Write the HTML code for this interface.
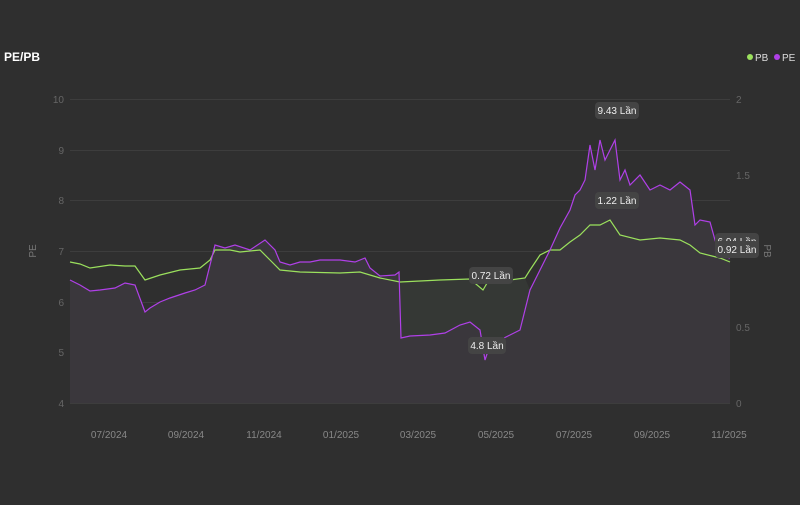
<!DOCTYPE html>
<html><head><meta charset="utf-8"><style>
body{margin:0;background:#2f2f2f;width:800px;height:500px;overflow:hidden;font-family:"Liberation Sans",sans-serif}
</style></head><body>
<svg width="800" height="500" xmlns="http://www.w3.org/2000/svg" font-family="Liberation Sans, sans-serif">
<rect width="800" height="500" fill="#2f2f2f"/>
<text x="4" y="61" fill="#fff" font-size="12" font-weight="bold">PE/PB</text>
<circle cx="750" cy="57" r="3" fill="#9be15d"/><text x="755" y="61" fill="#ddd" font-size="10">PB</text>
<circle cx="777" cy="57" r="3" fill="#b040e8"/><text x="782" y="61" fill="#ddd" font-size="10">PE</text>
<g stroke="#3d3d3d" stroke-width="1">
<line x1="70" y1="99.5" x2="730" y2="99.5"/><line x1="70" y1="150.5" x2="730" y2="150.5"/>
<line x1="70" y1="200.5" x2="730" y2="200.5"/><line x1="70" y1="251.5" x2="730" y2="251.5"/>
<line x1="70" y1="302.5" x2="730" y2="302.5"/><line x1="70" y1="352.5" x2="730" y2="352.5"/>
<line x1="70" y1="403.5" x2="730" y2="403.5"/></g>
<g fill="#666" font-size="10" text-anchor="end">
<text x="64" y="103">10</text><text x="64" y="154">9</text><text x="64" y="204">8</text><text x="64" y="255">7</text><text x="64" y="306">6</text><text x="64" y="356">5</text><text x="64" y="407">4</text></g>
<g fill="#666" font-size="10">
<text x="736" y="103">2</text><text x="736" y="179">1.5</text><text x="736" y="331">0.5</text><text x="736" y="407">0</text></g>
<text transform="translate(36,251) rotate(-90)" fill="#777" font-size="10" text-anchor="middle">PE</text>
<text transform="translate(764,251) rotate(90)" fill="#777" font-size="10" text-anchor="middle">PB</text>
<g fill="#888" font-size="10" text-anchor="middle">
<text x="109" y="438">07/2024</text><text x="186" y="438">09/2024</text><text x="264" y="438">11/2024</text><text x="341" y="438">01/2025</text><text x="418" y="438">03/2025</text><text x="496" y="438">05/2025</text><text x="574" y="438">07/2025</text><text x="652" y="438">09/2025</text><text x="729" y="438">11/2025</text></g>
<polygon fill="#3a373c" points="70,280 80,285 90,291 100,290 115,288 125,283 135,285 145,312 150,308 160,302 170,298 185,293 195,290 205,285 210,265 215,245 225,248 235,245 250,250 265,240 275,250 280,262 290,265 300,262 310,262 320,260 340,260 355,262 365,258 370,268 380,276 395,275 399,272 401,338 410,336 430,335 445,333 460,325 470,322 480,330 485,360 490,345 500,340 510,335 520,330 525,310 530,290 540,270 550,250 560,228 570,210 575,195 580,190 585,180 590,145 595,170 600,140 605,160 610,150 615,140 620,180 625,170 630,185 640,175 650,190 660,185 670,190 680,182 690,190 695,225 700,220 710,222 715,240 720,255 730,258 730,403 70,403"/>
<polygon fill="#353835" points="401,338 410,336 430,335 445,333 460,325 470,322 480,330 485,360 490,345 500,340 510,335 520,330 525,310 530,290 525,278 510,280 490,278 483,290 470,279 440,280 420,281 400,282"/>
<polyline fill="none" stroke="#9be15d" stroke-width="1.2" points="70,262 80,264 90,268 110,265 125,266 135,266 145,280 160,275 180,270 200,268 210,260 215,250 230,250 240,252 260,250 270,260 280,270 300,272 340,273 360,272 380,278 400,282 420,281 440,280 470,279 483,290 490,278 510,280 525,278 530,270 540,255 550,250 560,250 570,242 580,235 590,225 600,225 610,220 620,235 640,240 660,238 680,240 690,245 700,253 720,258 730,262"/>
<polyline fill="none" stroke="#b040e8" stroke-width="1.2" points="70,280 80,285 90,291 100,290 115,288 125,283 135,285 145,312 150,308 160,302 170,298 185,293 195,290 205,285 210,265 215,245 225,248 235,245 250,250 265,240 275,250 280,262 290,265 300,262 310,262 320,260 340,260 355,262 365,258 370,268 380,276 395,275 399,272 401,338 410,336 430,335 445,333 460,325 470,322 480,330 485,360 490,345 500,340 510,335 520,330 525,310 530,290 540,270 550,250 560,228 570,210 575,195 580,190 585,180 590,145 595,170 600,140 605,160 610,150 615,140 620,180 625,170 630,185 640,175 650,190 660,185 670,190 680,182 690,190 695,225 700,220 710,222 715,240 720,255 730,258"/>
<g font-size="10" fill="#eee" text-anchor="middle">
<rect x="595" y="102" width="44" height="17" rx="4" fill="#444"/><text x="617" y="114">9.43 Lần</text>
<rect x="595" y="192" width="44" height="17" rx="4" fill="#444"/><text x="617" y="204">1.22 Lần</text>
<rect x="469" y="267" width="44" height="17" rx="4" fill="#444"/><text x="491" y="279">0.72 Lần</text>
<rect x="468" y="337" width="38" height="17" rx="4" fill="#444"/><text x="487" y="349">4.8 Lần</text>
<rect x="715" y="233" width="44" height="17" rx="4" fill="#444"/><text x="737" y="245">6.94 Lần</text>
<rect x="715" y="241" width="44" height="17" rx="4" fill="#444"/><text x="737" y="253">0.92 Lần</text>
</g>
</svg>
</body></html>
